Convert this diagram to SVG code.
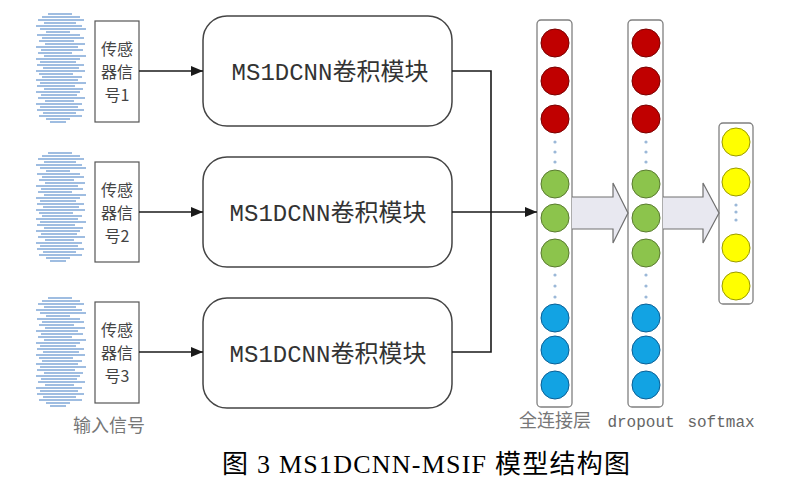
<svg xmlns="http://www.w3.org/2000/svg" width="803" height="495" viewBox="0 0 803 495">
<style>
.sbox{fill:#fff;stroke:#555;stroke-width:1.2}
.mod{fill:#fff;stroke:#444;stroke-width:1.5}
.layer{fill:#fff;stroke:#808080;stroke-width:1.3}
.conn{fill:none;stroke:#1a1a1a;stroke-width:1.6}
.big{fill:#e8e8f0;stroke:#707070;stroke-width:1.2}
.t17{font-family:"Noto Sans CJK SC","Liberation Serif",serif;font-size:16px;fill:#444;text-anchor:middle}
.tmod{font-family:"Liberation Mono","Noto Sans CJK SC",monospace;font-size:24px;fill:#333;text-anchor:middle}
.lbl{font-family:"Liberation Mono","Noto Sans CJK SC",monospace;font-size:16px;fill:#666;text-anchor:middle}
.lblc{font-family:"Noto Sans CJK SC",sans-serif;font-size:18px;fill:#777;text-anchor:middle}
.cap{font-family:"Liberation Serif","Noto Sans CJK SC",serif;font-size:26px;fill:#000}
.red{fill:#c00000;stroke:#7a0000;stroke-width:1}
.grn{fill:#8cc44c;stroke:#5a7a30;stroke-width:1}
.blu{fill:#12a3e3;stroke:#0b5f95;stroke-width:1}
.yel{fill:#ffff00;stroke:#9a9a00;stroke-width:1}
.dot{fill:#9bb8d8}
.wv line{stroke:#80a8d8;stroke-width:2;opacity:.75}
</style>
<defs>
<marker id="ah" viewBox="0 0 12 10" refX="12" refY="5" markerWidth="12" markerHeight="10" markerUnits="userSpaceOnUse" orient="auto">
<path d="M0,0 L12,5 L0,10 Z" fill="#1a1a1a"/>
</marker>
<g id="wave" class="wv">
<line x1="48" y1="0" x2="72" y2="0"/><line x1="42" y1="3" x2="80" y2="3"/><line x1="38" y1="6" x2="84" y2="6"/>
<line x1="44" y1="9" x2="76" y2="9"/><line x1="36" y1="12" x2="82" y2="12"/><line x1="40" y1="15" x2="86" y2="15"/>
<line x1="46" y1="18" x2="70" y2="18"/><line x1="37" y1="21" x2="80" y2="21"/><line x1="42" y1="24" x2="84" y2="24"/>
<line x1="39" y1="27" x2="74" y2="27"/><line x1="45" y1="30" x2="85" y2="30"/><line x1="36" y1="33" x2="78" y2="33"/>
<line x1="41" y1="36" x2="83" y2="36"/><line x1="38" y1="39" x2="72" y2="39"/><line x1="44" y1="42" x2="86" y2="42"/>
<line x1="36" y1="45" x2="80" y2="45"/><line x1="40" y1="48" x2="76" y2="48"/><line x1="37" y1="51" x2="84" y2="51"/>
<line x1="43" y1="54" x2="79" y2="54"/><line x1="36" y1="57" x2="85" y2="57"/><line x1="39" y1="60" x2="73" y2="60"/>
<line x1="42" y1="63" x2="82" y2="63"/><line x1="36" y1="66" x2="78" y2="66"/><line x1="40" y1="69" x2="86" y2="69"/>
<line x1="37" y1="72" x2="75" y2="72"/><line x1="44" y1="75" x2="83" y2="75"/><line x1="36" y1="78" x2="80" y2="78"/>
<line x1="41" y1="81" x2="77" y2="81"/><line x1="38" y1="84" x2="85" y2="84"/><line x1="45" y1="87" x2="74" y2="87"/>
<line x1="36" y1="90" x2="82" y2="90"/><line x1="40" y1="93" x2="78" y2="93"/><line x1="37" y1="96" x2="84" y2="96"/>
<line x1="43" y1="99" x2="76" y2="99"/><line x1="39" y1="102" x2="82" y2="102"/><line x1="46" y1="105" x2="70" y2="105"/>
<line x1="50" y1="108" x2="66" y2="108"/>
</g>
</defs>
<rect width="803" height="495" fill="#fff"/>

<g id="signals">
<use href="#wave" y="14"/>
<use href="#wave" y="153"/>
<use href="#wave" y="298"/>
<text class="lblc" x="109" y="432">输入信号</text>
</g>

<g id="sensor1"><rect class="sbox" x="95" y="21" width="44" height="101"/>
<text class="t17" x="117" y="55">传感</text><text class="t17" x="117" y="78">器信</text><text class="t17" x="117" y="101">号1</text></g>
<g id="sensor2"><rect class="sbox" x="95" y="162" width="44" height="100"/>
<text class="t17" x="117" y="196">传感</text><text class="t17" x="117" y="219">器信</text><text class="t17" x="117" y="242">号2</text></g>
<g id="sensor3"><rect class="sbox" x="95" y="302" width="44" height="101"/>
<text class="t17" x="117" y="336">传感</text><text class="t17" x="117" y="359">器信</text><text class="t17" x="117" y="382">号3</text></g>

<g id="module1"><rect class="mod" x="203" y="16" width="249" height="110" rx="24"/>
<text class="tmod" x="330" y="80">MS1DCNN卷积模块</text></g>
<g id="module2"><rect class="mod" x="203" y="157" width="249" height="110" rx="24"/>
<text class="tmod" x="328" y="221">MS1DCNN卷积模块</text></g>
<g id="module3"><rect class="mod" x="203" y="298" width="249" height="110" rx="24"/>
<text class="tmod" x="328" y="362">MS1DCNN卷积模块</text></g>

<g id="fc">
<rect class="layer" x="537" y="20" width="35" height="387" rx="4"/>
<circle class="red" cx="555" cy="43" r="14"/><circle class="red" cx="555" cy="81" r="14"/><circle class="red" cx="555" cy="119" r="14"/>
<circle class="dot" cx="555" cy="142" r="1.6"/><circle class="dot" cx="555" cy="152" r="1.6"/><circle class="dot" cx="555" cy="162" r="1.6"/>
<circle class="grn" cx="555" cy="184" r="14"/><circle class="grn" cx="555" cy="218" r="14"/><circle class="grn" cx="555" cy="253" r="14"/>
<circle class="dot" cx="555" cy="275" r="1.6"/><circle class="dot" cx="555" cy="286" r="1.6"/><circle class="dot" cx="555" cy="297" r="1.6"/>
<circle class="blu" cx="555" cy="318" r="14"/><circle class="blu" cx="555" cy="350" r="14"/><circle class="blu" cx="555" cy="385" r="14"/>
<text class="lblc" x="555" y="427">全连接层</text>
</g>

<g id="dropout">
<rect class="layer" x="628" y="20" width="35" height="387" rx="4"/>
<circle class="red" cx="646" cy="43" r="14"/><circle class="red" cx="646" cy="81" r="14"/><circle class="red" cx="646" cy="119" r="14"/>
<circle class="dot" cx="646" cy="142" r="1.6"/><circle class="dot" cx="646" cy="152" r="1.6"/><circle class="dot" cx="646" cy="162" r="1.6"/>
<circle class="grn" cx="646" cy="184" r="14"/><circle class="grn" cx="646" cy="218" r="14"/><circle class="grn" cx="646" cy="253" r="14"/>
<circle class="dot" cx="646" cy="275" r="1.6"/><circle class="dot" cx="646" cy="286" r="1.6"/><circle class="dot" cx="646" cy="297" r="1.6"/>
<circle class="blu" cx="646" cy="318" r="14"/><circle class="blu" cx="646" cy="350" r="14"/><circle class="blu" cx="646" cy="385" r="14"/>
<text class="lbl" x="641" y="427">dropout</text>
</g>

<g id="softmax">
<rect class="layer" x="719" y="123" width="34" height="181" rx="4"/>
<circle class="yel" cx="736" cy="142" r="14"/><circle class="yel" cx="736" cy="182" r="14"/>
<circle class="dot" cx="736" cy="205" r="1.6"/><circle class="dot" cx="736" cy="212" r="1.6"/><circle class="dot" cx="736" cy="220" r="1.6"/>
<circle class="yel" cx="736" cy="248" r="14"/><circle class="yel" cx="736" cy="286" r="14"/>
<text class="lbl" x="721" y="427">softmax</text>
</g>

<g id="connectors">
<line class="conn" x1="139" y1="71" x2="203" y2="71" marker-end="url(#ah)"/>
<line class="conn" x1="139" y1="212" x2="203" y2="212" marker-end="url(#ah)"/>
<line class="conn" x1="139" y1="352" x2="203" y2="352" marker-end="url(#ah)"/>
<polyline class="conn" points="452,71 491,71 491,352 452,352"/>
<line class="conn" x1="452" y1="212" x2="537" y2="212" marker-end="url(#ah)"/>
<path class="big" d="M572,197 L613,197 L613,183 L628,213 L613,243 L613,229 L572,229"/>
<path class="big" d="M663,197 L703,197 L703,183 L719,213 L703,243 L703,229 L663,229"/>
</g>

<text class="cap" x="222" y="473" textLength="408" lengthAdjust="spacing">图 3 MS1DCNN-MSIF 模型结构图</text>
</svg>
